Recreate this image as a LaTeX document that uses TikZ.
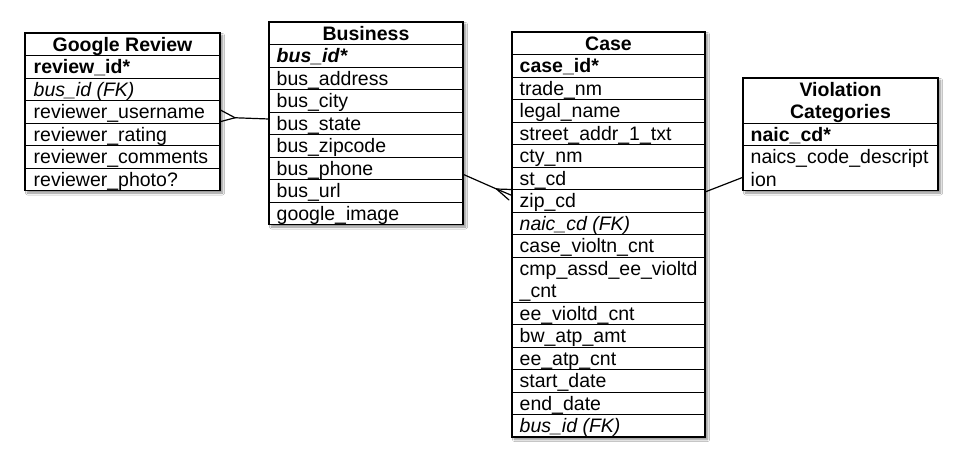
\documentclass[tikz,border=0pt]{standalone}
\usepackage{fontspec}
\setmainfont{Liberation Sans}
\usetikzlibrary{shadows.blur}
\begin{document}
\begin{tikzpicture}[x=1pt,y=-1pt,
  tbox/.style={draw, line width=1.4pt, fill=white, inner sep=0pt, outer sep=0pt, anchor=north west,
    blur shadow={shadow xshift=2.5pt, shadow yshift=-2.5pt, shadow blur radius=2pt, shadow blur steps=6, shadow opacity=45}},
  cell/.style 2 args={draw, line width=0.9pt, inner sep=0pt, outer sep=0pt, anchor=north west,
    minimum width=#1, minimum height=#2},
  txt/.style={anchor=base west, inner sep=0pt, font=\fontsize{19.5}{22.5}\selectfont},
  head/.style={anchor=base, inner sep=0pt, font=\fontsize{19.5}{22.5}\selectfont\bfseries},
  conn/.style={draw, line width=1.2pt, line cap=round}]
\useasboundingbox[fill=white] (0,0) rectangle (966,467);

% ---------------- Google Review ----------------
\node[tbox, minimum width=195pt, minimum height=157.5pt] (gr) at (25,33) {};
\node[cell={195pt}{22.5pt}] (gr0) at (25,33) {};
\node[cell={195pt}{22.5pt}] (gr1) at (25,55.5) {};
\node[cell={195pt}{22.5pt}] (gr2) at (25,78) {};
\node[cell={195pt}{22.5pt}] (gr3) at (25,100.5) {};
\node[cell={195pt}{22.5pt}] (gr4) at (25,123) {};
\node[cell={195pt}{22.5pt}] (gr5) at (25,145.5) {};
\node[cell={195pt}{22.5pt}] (gr6) at (25,168) {};
\node[head] (grt0) at (122.5,51) {Google Review};
\node[txt, font=\fontsize{19.5}{22.5}\selectfont\bfseries] (grt1) at (33.5,73.5) {review\_id*};
\node[txt, font=\fontsize{19.5}{22.5}\selectfont\itshape] (grt2) at (33.5,96) {bus\_id (FK)};
\node[txt] (grt3) at (33.5,118.5) {reviewer\_username};
\node[txt] (grt4) at (33.5,141) {reviewer\_rating};
\node[txt] (grt5) at (33.5,163.5) {reviewer\_comments};
\node[txt] (grt6) at (33.5,186) {reviewer\_photo?};

% ---------------- Business ----------------
\node[tbox, minimum width=194pt, minimum height=202.5pt] (bus) at (269,22) {};
\node[cell={194pt}{22.5pt}] (b0) at (269,22) {};
\node[cell={194pt}{22.5pt}] (b1) at (269,44.5) {};
\node[cell={194pt}{22.5pt}] (b2) at (269,67) {};
\node[cell={194pt}{22.5pt}] (b3) at (269,89.5) {};
\node[cell={194pt}{22.5pt}] (b4) at (269,112) {};
\node[cell={194pt}{22.5pt}] (b5) at (269,134.5) {};
\node[cell={194pt}{22.5pt}] (b6) at (269,157) {};
\node[cell={194pt}{22.5pt}] (b7) at (269,179.5) {};
\node[cell={194pt}{22.5pt}] (b8) at (269,202) {};
\node[head] (bt0) at (366,40) {Business};
\node[txt, font=\fontsize{19.5}{22.5}\selectfont\bfseries\itshape] (bt1) at (276.5,62.5) {bus\_id*};
\node[txt] (bt2) at (276.5,85) {bus\_address};
\node[txt] (bt3) at (276.5,107.5) {bus\_city};
\node[txt] (bt4) at (276.5,130) {bus\_state};
\node[txt] (bt5) at (276.5,152.5) {bus\_zipcode};
\node[txt] (bt6) at (276.5,175) {bus\_phone};
\node[txt] (bt7) at (276.5,197.5) {bus\_url};
\node[txt] (bt8) at (276.5,220) {google\_image};

% ---------------- Case ----------------
\node[tbox, minimum width=193pt, minimum height=405pt] (case) at (512,32) {};
\node[cell={193pt}{22.5pt}] (c0) at (512,32) {};
\node[cell={193pt}{22.5pt}] (c1) at (512,54.5) {};
\node[cell={193pt}{22.5pt}] (c2) at (512,77) {};
\node[cell={193pt}{22.5pt}] (c3) at (512,99.5) {};
\node[cell={193pt}{22.5pt}] (c4) at (512,122) {};
\node[cell={193pt}{22.5pt}] (c5) at (512,144.5) {};
\node[cell={193pt}{22.5pt}] (c6) at (512,167) {};
\node[cell={193pt}{22.5pt}] (c7) at (512,189.5) {};
\node[cell={193pt}{22.5pt}] (c8) at (512,212) {};
\node[cell={193pt}{22.5pt}] (c9) at (512,234.5) {};
\node[cell={193pt}{45pt}] (c10) at (512,257) {};
\node[cell={193pt}{22.5pt}] (c11) at (512,302) {};
\node[cell={193pt}{22.5pt}] (c12) at (512,324.5) {};
\node[cell={193pt}{22.5pt}] (c13) at (512,347) {};
\node[cell={193pt}{22.5pt}] (c14) at (512,369.5) {};
\node[cell={193pt}{22.5pt}] (c15) at (512,392) {};
\node[cell={193pt}{22.5pt}] (c16) at (512,414.5) {};
\node[head] (ct0) at (608.5,50) {Case};
\node[txt, font=\fontsize{19.5}{22.5}\selectfont\bfseries] (ct1) at (519.5,72.5) {case\_id*};
\node[txt] (ct2) at (519.5,95) {trade\_nm};
\node[txt] (ct3) at (519.5,117.5) {legal\_name};
\node[txt] (ct4) at (519.5,140) {street\_addr\_1\_txt};
\node[txt] (ct5) at (519.5,162.5) {cty\_nm};
\node[txt] (ct6) at (519.5,185) {st\_cd};
\node[txt] (ct7) at (519.5,207.5) {zip\_cd};
\node[txt, font=\fontsize{19.5}{22.5}\selectfont\itshape] (ct8) at (519.5,230) {naic\_cd (FK)};
\node[txt] (ct9) at (519.5,252.5) {case\_violtn\_cnt};
\node[txt] (ct10a) at (519.5,275) {cmp\_assd\_ee\_violtd};
\node[txt] (ct10b) at (519.5,297.5) {\_cnt};
\node[txt] (ct11) at (519.5,320) {ee\_violtd\_cnt};
\node[txt] (ct12) at (519.5,342.5) {bw\_atp\_amt};
\node[txt] (ct13) at (519.5,365) {ee\_atp\_cnt};
\node[txt] (ct14) at (519.5,387.5) {start\_date};
\node[txt] (ct15) at (519.5,410) {end\_date};
\node[txt, font=\fontsize{19.5}{22.5}\selectfont\itshape] (ct16) at (519.5,432.5) {bus\_id (FK)};

% ---------------- Violation Categories ----------------
\node[tbox, minimum width=195pt, minimum height=112.5pt] (viol) at (743,78) {};
\node[cell={195pt}{45pt}] (v0) at (743,78) {};
\node[cell={195pt}{22.5pt}] (v1) at (743,123) {};
\node[cell={195pt}{45pt}] (v2) at (743,145.5) {};
\node[head] (vt0a) at (840.5,96) {Violation};
\node[head] (vt0b) at (840.5,118.5) {Categories};
\node[txt, font=\fontsize{19.5}{22.5}\selectfont\bfseries] (vt1) at (750.5,141) {naic\_cd*};
\node[txt] (vt2a) at (750.5,163.5) {naics\_code\_descript};
\node[txt] (vt2b) at (750.5,186) {ion};

% ---------------- Connectors ----------------
% Google Review (many) -- Business
\coordinate (cf1) at ([xshift=15pt,yshift=-6pt]gr3.east);
\draw[conn] (cf1) -- ([yshift=4.25pt]b4.west);
\draw[conn] (cf1) -- ([yshift=2pt]gr3.east);
\draw[conn] (cf1) -- ([yshift=-10pt]gr3.east);

% Business -- Case (many)
\coordinate (cf2) at ([xshift=-15.5pt,yshift=-10.75pt]c6.west);
\draw[conn] ([yshift=-6pt]b6.east) -- (cf2) -- ([yshift=5.25pt]c7.west);
\draw[conn] (cf2) -- (c6.south west);
\draw[conn] (cf2) -- ([xshift=-3pt,yshift=0.75pt]c7.west);

% Case -- Violation Categories
\draw[conn] ([yshift=-2.5pt]c6.south east) -- ([yshift=-9.25pt]v2.west);
\end{tikzpicture}
\end{document}
